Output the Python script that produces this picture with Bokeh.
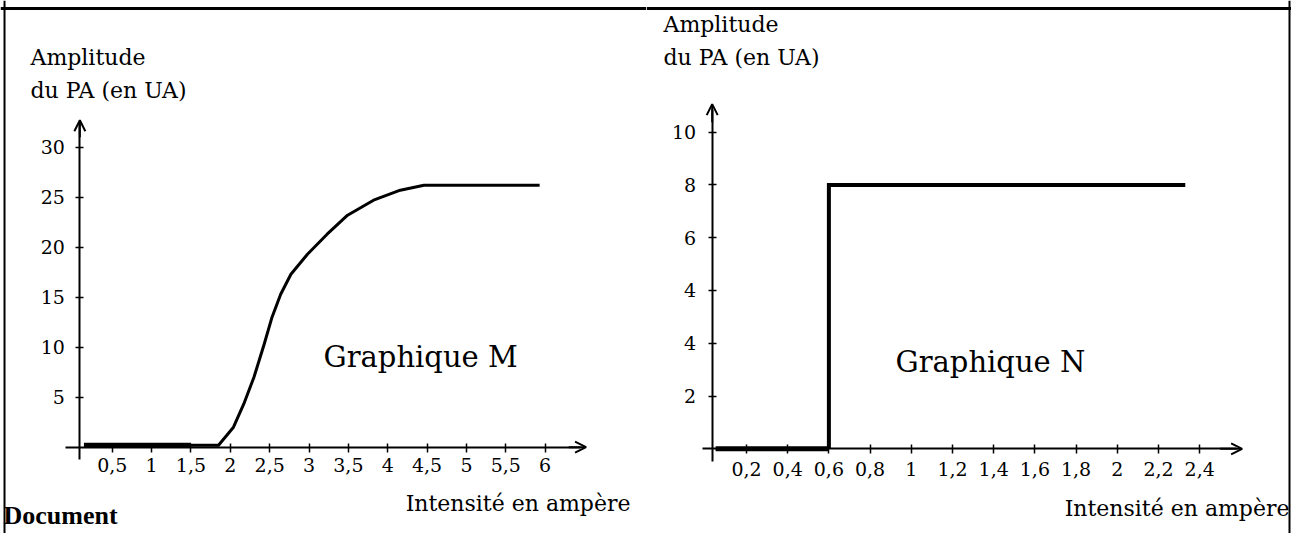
from bokeh.plotting import figure
from bokeh.models import (LinearAxis, FixedTicker, Range1d, Label, Arrow, OpenHead,
                          Span, CustomJSTickFormatter)
from bokeh.layouts import row
from bokeh.embed import file_html
from bokeh.resources import INLINE

# ---------------- data : Graphique M ----------------
intensite_M = [1.50, 1.85, 2.04, 2.17, 2.30, 2.43, 2.53, 2.64, 2.77, 2.98, 3.23,
               3.49, 3.82, 4.16, 4.46, 5.93]
amplitude_M = [0.2, 0.2, 2.0, 4.3, 7.0, 10.3, 13.0, 15.3, 17.3, 19.3, 21.3,
               23.2, 24.7, 25.7, 26.2, 26.2]
repos_M_x = [0.14, 1.50]
repos_M_y = [0.2, 0.2]
ticks_x_M = [0.5, 1, 1.5, 2, 2.5, 3, 3.5, 4, 4.5, 5, 5.5, 6]
ticks_y_M = [5, 10, 15, 20, 25, 30]

# ---------------- data : Graphique N ----------------
intensite_N = [0.6, 0.6, 2.33]
amplitude_N = [0.0, 8.0, 8.0]
repos_N_x = [0.05, 0.6]
repos_N_y = [0.0, 0.0]
ticks_x_N = [0.2, 0.4, 0.6, 0.8, 1.0, 1.2, 1.4, 1.6, 1.8, 2.0, 2.2, 2.4]
ticks_y_N = [1.6, 3.2, 4.8, 6.4, 8.0, 9.6]
labels_y_N = ["2", "4", "4", "6", "8", "10"]

FONT = "DejaVu Serif"
H = 533
TITLE = "22px"
TICK = "19px"
BIG = "29px"

comma_fmt = CustomJSTickFormatter(code="return tick.toString().replace('.', ',');")


def base_fig(width, xr, yr):
    p = figure(width=width, height=H, x_range=Range1d(*xr), y_range=Range1d(*yr),
               output_backend="svg", toolbar_location=None,
               x_axis_type=None, y_axis_type=None, min_border=0)
    p.outline_line_color = None
    p.background_fill_color = "white"
    p.border_fill_color = "white"
    return p


def style_axis(ax):
    ax.axis_line_width = 2
    ax.axis_line_color = "black"
    ax.major_tick_line_width = 1.5
    ax.major_tick_line_color = "black"
    ax.minor_tick_line_color = None
    ax.major_label_text_font = FONT
    ax.major_label_text_font_size = TICK
    ax.major_label_text_color = "black"


def add_text(p, x, y, text, size, align="left", font=FONT, style="normal"):
    p.add_layout(Label(x=x, y=y, x_units="screen", y_units="screen", text=text,
                       text_font=font, text_font_size=size, text_align=align,
                       text_baseline="alphabetic", text_color="black",
                       text_font_style=style))


# ================= Graphique M =================
W1 = 646
pm = base_fig(W1, (-0.920, 7.288), (-8.63, 44.67))

xa = LinearAxis(fixed_location=0, ticker=FixedTicker(ticks=ticks_x_M),
                formatter=comma_fmt, bounds=(-0.1, 6.45))
style_axis(xa)
xa.major_tick_in = 4
xa.major_tick_out = 5
xa.major_label_standoff = 6
pm.add_layout(xa, "below")

ya = LinearAxis(fixed_location=0.088, ticker=FixedTicker(ticks=ticks_y_M),
                bounds=(-1.2, 32.5))
style_axis(ya)
ya.major_tick_in = 4
ya.major_tick_out = 4
ya.major_label_standoff = 11
pm.add_layout(ya, "left")

pm.add_layout(Arrow(end=OpenHead(size=11, line_width=2), x_start=6.3, y_start=0,
                    x_end=6.52, y_end=0, line_width=2))
pm.add_layout(Arrow(end=OpenHead(size=11, line_width=2), x_start=0.088, y_start=31,
                    x_end=0.088, y_end=32.7, line_width=2))

pm.line(repos_M_x, repos_M_y, line_width=5, line_color="black")
pm.line(intensite_M, amplitude_M, line_width=3, line_color="black",
        line_join="round")

add_text(pm, 30, 476, "Amplitude", TITLE)
add_text(pm, 30, 443, "du PA (en UA)", TITLE)
add_text(pm, 630, 30, "Intensité en ampère", TITLE, align="right")
add_text(pm, 323, 177, "Graphique M", BIG)
add_text(pm, 3, 18, "Document", "26px", font="Liberation Serif", style="bold")

pm.add_layout(Span(location=43.87, dimension="width", line_color="black", line_width=3))
pm.add_layout(Span(location=-0.869, dimension="height", line_color="black", line_width=2))

# ================= Graphique N =================
W2 = 645
pn = base_fig(W2, (-0.2854, 2.8457), (-2.568, 13.593))

xb = LinearAxis(fixed_location=0, ticker=FixedTicker(ticks=ticks_x_N),
                formatter=comma_fmt, bounds=(-0.015, 2.58))
style_axis(xb)
xb.major_tick_in = 4
xb.major_tick_out = 5
xb.major_label_standoff = 8
pn.add_layout(xb, "below")

yfmt = CustomJSTickFormatter(args=dict(tv=ticks_y_N, lb=labels_y_N), code="""
for (let i = 0; i < tv.length; i++) { if (Math.abs(tv[i] - tick) < 1e-6) return lb[i]; }
return '';
""")
yb = LinearAxis(fixed_location=0.0335, ticker=FixedTicker(ticks=ticks_y_N),
                formatter=yfmt, bounds=(-0.4, 10.3))
style_axis(yb)
yb.major_tick_in = 4
yb.major_tick_out = 4
yb.major_label_standoff = 12
pn.add_layout(yb, "left")

pn.add_layout(Arrow(end=OpenHead(size=11, line_width=2), x_start=2.5, y_start=0,
                    x_end=2.606, y_end=0, line_width=2))
pn.add_layout(Arrow(end=OpenHead(size=11, line_width=2), x_start=0.0335, y_start=9.9,
                    x_end=0.0335, y_end=10.45, line_width=2))

pn.line(repos_N_x, repos_N_y, line_width=5, line_color="black")
pn.line(intensite_N, amplitude_N, line_width=4, line_color="black",
        line_join="miter")

add_text(pn, 17, 509, "Amplitude", TITLE)
add_text(pn, 17, 476, "du PA (en UA)", TITLE)
add_text(pn, 643, 25, "Intensité en ampère", TITLE, align="right")
add_text(pn, 249, 172, "Graphique N", BIG)

pn.add_layout(Span(location=13.35, dimension="width", line_color="black", line_width=3))
pn.add_layout(Span(location=2.836, dimension="height", line_color="black", line_width=2))

layout = row(pm, pn, spacing=0)
open("out.html", "w").write(file_html(layout, INLINE))
